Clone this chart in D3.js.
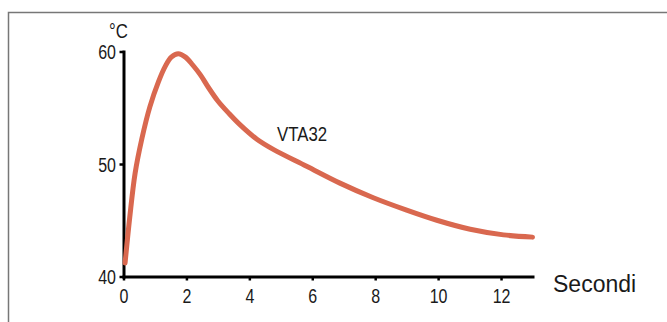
<!DOCTYPE html>
<html>
<head>
<meta charset="utf-8">
<script src="https://cdn.jsdelivr.net/npm/d3@7"></script>
<style>
  html, body { margin: 0; padding: 0; background: #fff; }
  svg { display: block; }
</style>
</head>
<body>
<svg id="chart" width="667" height="322"></svg>
<script>
// ---- data ----
const timeSec = [0.05, 0.20, 0.37, 0.58, 0.84, 1.11, 1.33, 1.52, 1.74, 1.97, 2.20, 2.45, 2.70, 3.00, 3.35, 3.70, 4.24, 4.76, 5.82, 6.88, 7.94, 9.00, 9.96, 11.02, 12.08, 13.0];
const tempC   = [41.2, 45.3, 49.2, 52.2, 55.1, 57.3, 58.7, 59.5, 59.8, 59.5, 58.8, 57.9, 56.8, 55.6, 54.5, 53.5, 52.2, 51.3, 49.8, 48.3, 47.0, 45.9, 45.0, 44.2, 43.7, 43.5];
const xTicks = [0, 2, 4, 6, 8, 10, 12];
const yTicks = [40, 50, 60];
const seriesLabel = "VTA32";
const yUnit = "°C";
const xTitle = "Secondi";

// ---- drawing ----
const svg = d3.select("#chart");
const FONT = "'Liberation Sans', Arial, sans-serif";

// frame
svg.append("rect")
  .attr("x", 8.5).attr("y", 12.5)
  .attr("width", 700).attr("height", 400)
  .attr("fill", "none").attr("stroke", "#777").attr("stroke-width", 1.5);

const x = d3.scaleLinear().domain([0, 13]).range([123.5, 532.5]);
const y = d3.scaleLinear().domain([40, 60]).range([276.5, 51.5]);

// x axis
const gx = svg.append("g").attr("transform", `translate(0,${y(40)})`)
  .call(d3.axisBottom(x).tickValues(xTicks).tickSize(4).tickSizeOuter(0).tickFormat(d3.format("d")));
gx.select(".domain").attr("stroke", "#000").attr("stroke-width", 3).attr("stroke-linecap", "square");
gx.selectAll(".tick line").attr("stroke", "#000").attr("stroke-width", 2.5);
gx.selectAll(".tick text")
  .attr("y", 0).attr("dy", 0)
  .attr("transform", "translate(0,26) scale(0.8,1)")
  .attr("font-family", FONT).attr("font-size", 20).attr("fill", "#1a1a1a");

// y axis
const gy = svg.append("g").attr("transform", `translate(${x(0)},0)`)
  .call(d3.axisLeft(y).tickValues(yTicks).tickSize(4).tickSizeOuter(0).tickFormat(d3.format("d")));
gy.select(".domain").attr("stroke", "#000").attr("stroke-width", 3).attr("stroke-linecap", "square");
gy.selectAll(".tick line").attr("stroke", "#000").attr("stroke-width", 2.5);
gy.selectAll(".tick text")
  .attr("x", 0).attr("dy", 0)
  .attr("transform", "translate(-7.5,7) scale(0.8,1)")
  .attr("font-family", FONT).attr("font-size", 20).attr("fill", "#1a1a1a");

// curve
const pts = timeSec.map((t, i) => [t, tempC[i]]);
const line = d3.line().x(d => x(d[0])).y(d => y(d[1])).curve(d3.curveCatmullRom.alpha(0.5));
svg.append("path")
  .attr("d", line(pts))
  .attr("fill", "none")
  .attr("stroke", "#d9684f")
  .attr("stroke-width", 5)
  .attr("stroke-linecap", "round")
  .attr("stroke-linejoin", "round");

// labels
function label(txt, px, py, size, sx, anchor) {
  svg.append("text")
    .attr("transform", `translate(${px},${py}) scale(${sx},1)`)
    .attr("text-anchor", anchor || "start")
    .attr("font-family", FONT)
    .attr("font-size", size)
    .attr("fill", "#1a1a1a")
    .text(txt);
}
label(yUnit, 109, 38, 21, 0.8);
label(seriesLabel, 277, 141, 21, 0.8);
label(xTitle, 553, 291.5, 23, 1);
</script>
</body>
</html>
